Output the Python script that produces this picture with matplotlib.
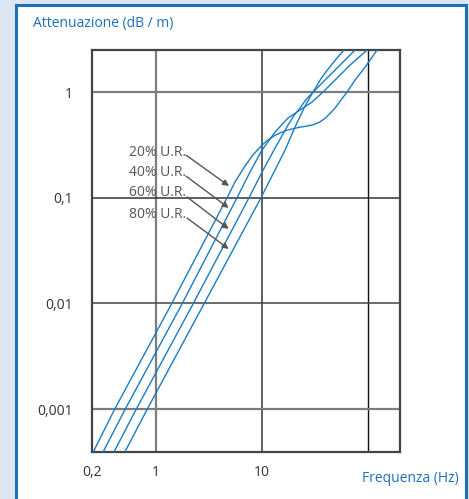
import matplotlib
matplotlib.use("Agg")
import matplotlib.pyplot as plt
from matplotlib.patches import Rectangle

plt.rcParams['font.family'] = ['Open Sans', 'DejaVu Sans']

# ---- data ----
f_20 = [0.255, 0.408, 1.41, 4.68, 5.56, 6.92, 8.23, 10.0, 11.5, 13.26, 15.2, 17.2, 20.0, 22.8, 26.0, 30.3,
        35.0, 39.3, 44.0, 48.8, 55.0, 63.4, 75.4, 93.7, 121.6]
a_20 = [3.9e-4, 1e-3, 1e-2, 0.1, 0.141, 0.2, 0.255, 0.315, 0.355, 0.39, 0.415, 0.435, 0.452, 0.465, 0.475, 0.49,
        0.52, 0.565, 0.63, 0.706, 0.83, 1.0, 1.30, 1.72, 2.5]
f_40 = [0.316, 0.513, 1.77, 5.81, 7.70, 10.0, 13.26, 17.6, 22.8, 29.6, 37.6, 48.8, 67.6, 97.9]
a_40 = [3.9e-4, 1e-3, 1e-2, 0.1, 0.175, 0.283, 0.418, 0.568, 0.676, 0.804, 1.0, 1.30, 1.80, 2.5]
f_60 = [0.40, 0.652, 2.25, 7.54, 10.0, 13.26, 17.6, 20.0, 22.8, 26.0, 30.3, 39.3, 54.4, 75.4]
a_60 = [3.9e-4, 1e-3, 1e-2, 0.1, 0.175, 0.295, 0.488, 0.6, 0.706, 0.85, 1.0, 1.30, 1.80, 2.5]
f_80 = [0.507, 0.828, 2.85, 9.78, 12.7, 16.5, 20.9, 24.9, 27.0, 29.0, 32.0, 35.3, 40.0, 45.8, 52.0, 59.4]
a_80 = [3.9e-4, 1e-3, 1e-2, 0.1, 0.168, 0.283, 0.488, 0.706, 0.82, 0.93, 1.1, 1.3, 1.55, 1.84, 2.15, 2.5]

series_labels = ["20% U.R.", "40% U.R.", "60% U.R.", "80% U.R."]

x_ticks = [0.249, 1, 10]
x_ticklabels = ["0,2", "1", "10"]
y_ticks = [0.001, 0.01, 0.1, 1]
y_ticklabels = ["0,001", "0,01", "0,1", "1"]

# label anchor (f, value), arrow start and arrow tip
label_pos = [(1.92, 0.270), (1.92, 0.175), (1.92, 0.111), (1.92, 0.070)]
arrow_start = [(1.92, 0.253), (1.92, 0.160), (1.96, 0.1016), (1.96, 0.0643)]
arrow_tip = [(4.88, 0.129), (4.85, 0.080), (4.85, 0.0506), (4.85, 0.0327)]

blue = "#1a7cc4"
navy_border = "#1a72bb"

fig = plt.figure(figsize=(4.69, 4.99), dpi=100)
fig.patch.set_facecolor("#dfe6f3")

W, H = 469, 499
panel = Rectangle((15.5 / W, -0.05), (465.5 - 15.5) / W, 1.05 - 5 / H,
                  transform=fig.transFigure, facecolor="white",
                  edgecolor=navy_border, linewidth=2.2, zorder=0)
fig.add_artist(panel)

ax = fig.add_axes([92 / W, 1 - 452 / H, 308 / W, 402 / H])
ax.set_xscale("log")
ax.set_yscale("log")
ax.set_xlim(0.249, 200)
ax.set_ylim(3.92e-4, 2.5)
ax.set_facecolor("white")

ax.axvline(1, color="#7d7d7d", lw=1.6, zorder=1)
ax.axvline(10, color="#555555", lw=1.3, zorder=1)
ax.axvline(100, color="#111111", lw=1.0, zorder=1)
ax.axhline(1, color="#7d7d7d", lw=1.6, zorder=1)
ax.axhline(0.1, color="#333333", lw=1.1, zorder=1)
ax.axhline(0.01, color="#444444", lw=1.1, zorder=1)
ax.axhline(0.001, color="#7d7d7d", lw=1.6, zorder=1)

for f, a in [(f_20, a_20), (f_40, a_40), (f_60, a_60), (f_80, a_80)]:
    ax.plot(f, a, color=blue, lw=1.0, zorder=3, solid_joinstyle="round")

for s in ax.spines.values():
    s.set_color("#444444")
    s.set_linewidth(1.6)

ax.set_xticks(x_ticks)
ax.set_xticklabels(x_ticklabels)
ax.set_yticks(y_ticks)
ax.set_yticklabels(y_ticklabels)
ax.minorticks_off()
ax.tick_params(length=0, labelsize=10, colors="#333333", pad=14)
ax.tick_params(axis="x", pad=9)

for lab, lp, st, tp in zip(series_labels, label_pos, arrow_start, arrow_tip):
    ax.text(lp[0], lp[1], lab, ha="right", va="center",
            fontsize=10, color="#555555", zorder=4)
    ax.annotate("", xy=tp, xytext=st,
                arrowprops=dict(arrowstyle="-|>", color="#555555", lw=1.0,
                                mutation_scale=9, shrinkA=0, shrinkB=0),
                zorder=4)

fig.text(33 / W, 1 - 23 / H, "Attenuazione (dB / m)", color=navy_border,
         fontsize=10, ha="left", va="center")
fig.text(459 / W, 1 - 478 / H, "Frequenza (Hz)", color=navy_border,
         fontsize=10, ha="right", va="center")

fig.savefig("out.png", dpi=100, facecolor=fig.get_facecolor())
